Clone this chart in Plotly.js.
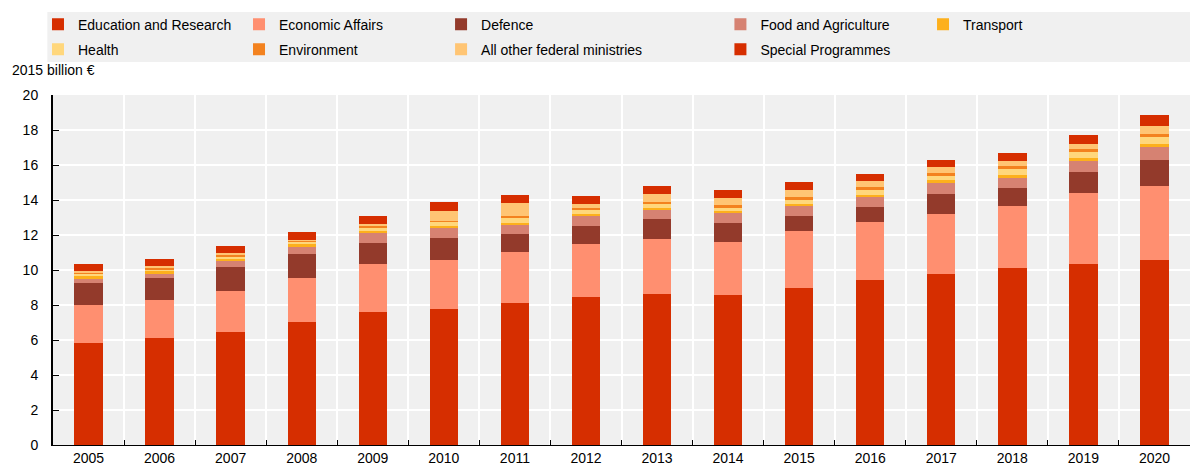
<!DOCTYPE html>
<html>
<head>
<meta charset="utf-8">
<script src="https://cdn.plot.ly/plotly-3.0.1.min.js"></script>
<style>
	html, body { margin: 0; padding: 0; background: #fff; }
	#chart { width: 1198px; height: 469px; }
</style>
</head>
<body>
<div id="chart"></div>
<script>

const years = ["2005", "2006", "2007", "2008", "2009", "2010", "2011", "2012", "2013", "2014", "2015", "2016", "2017", "2018", "2019", "2020"]

// 2015 billion €
const education = [5.83, 6.13, 6.48, 7.05, 7.60, 7.79, 8.11, 8.46, 8.63, 8.57, 8.99, 9.41, 9.77, 10.11, 10.33, 10.55]
const economic = [2.17, 2.16, 2.30, 2.49, 2.74, 2.78, 2.90, 3.04, 3.12, 3.03, 3.22, 3.31, 3.43, 3.56, 4.05, 4.27]
const defence = [1.24, 1.23, 1.41, 1.37, 1.22, 1.28, 1.05, 1.00, 1.15, 1.07, 0.89, 0.90, 1.16, 1.00, 1.22, 1.47]
const food = [0.26, 0.27, 0.32, 0.40, 0.54, 0.55, 0.53, 0.57, 0.53, 0.56, 0.57, 0.55, 0.61, 0.61, 0.65, 0.74]
const transport = [0.16, 0.13, 0.12, 0.16, 0.15, 0.11, 0.11, 0.13, 0.13, 0.13, 0.12, 0.12, 0.17, 0.15, 0.15, 0.19]
const health = [0.11, 0.10, 0.13, 0.11, 0.15, 0.21, 0.27, 0.23, 0.21, 0.19, 0.21, 0.28, 0.23, 0.34, 0.34, 0.36]
const environment = [0.08, 0.09, 0.10, 0.07, 0.11, 0.10, 0.10, 0.11, 0.12, 0.15, 0.17, 0.15, 0.19, 0.17, 0.19, 0.21]
const otherMinistries = [0.08, 0.12, 0.09, 0.06, 0.10, 0.55, 0.76, 0.23, 0.47, 0.44, 0.40, 0.35, 0.31, 0.27, 0.29, 0.44]
const special = [0.40, 0.40, 0.42, 0.44, 0.48, 0.50, 0.44, 0.44, 0.46, 0.46, 0.48, 0.42, 0.42, 0.46, 0.51, 0.61]

const seriesNames = ["Education and Research", "Economic Affairs", "Defence", "Food and Agriculture", "Transport",
	"Health", "Environment", "All other federal ministries", "Special Programmes"]
const seriesValues = [education, economic, defence, food, transport, health, environment, otherMinistries, special]
const seriesColors = ["#d62e00", "#ff8f70", "#933a2b", "#d68272", "#fdb01c", "#ffd77c", "#f3821f", "#ffc574", "#d62e00"]


const FONT = "Liberation Sans, Arial, sans-serif"

// legend is laid out as 5 columns x 2 rows, one plotly legend per column
const legendIds = ["legend", "legend2", "legend3", "legend4", "legend5"]
const legendColX = [-0.0132, 0.1636, 0.3413, 0.587, 0.7652]

const data = seriesNames.map((name, i) => ({
	type: "bar",
	name: name,
	x: years,
	y: seriesValues[i],
	legend: legendIds[i % 5],
	legendgroup: "g" + i,
	marker: { color: seriesColors[i], line: { width: 0 } },
	hoverinfo: "skip"
}))

const layout = {
	width: 1198,
	height: 469,
	margin: { l: 53, r: 8, t: 95, b: 24 },
	paper_bgcolor: "#ffffff",
	plot_bgcolor: "#f0f0f0",
	font: { family: FONT, size: 14, color: "#000" },
	barmode: "stack",
	bargap: 0.6,
	showlegend: true,
	xaxis: {
		type: "category",
		tickson: "boundaries",
		ticks: "inside",
		ticklen: 5,
		tickcolor: "#000",
		showline: true,
		linecolor: "#000",
		linewidth: 1,
		showgrid: true,
		gridcolor: "#ffffff",
		gridwidth: 2,
		tickfont: { family: FONT, size: 14, color: "#000" },
		fixedrange: true
	},
	yaxis: {
		range: [0, 20],
		dtick: 2,
		ticks: "inside",
		ticklen: 6,
		tickcolor: "#000",
		showline: true,
		linecolor: "#000",
		linewidth: 2,
		showgrid: true,
		gridcolor: "#ffffff",
		gridwidth: 2,
		zeroline: false,
		ticklabelstandoff: 10,
		tickfont: { family: FONT, size: 14, color: "#000" },
		fixedrange: true
	},
	shapes: [{
		type: "rect",
		xref: "paper",
		yref: "paper",
		x0: -0.005,
		x1: 1,
		y0: 1.094,
		y1: 1.237,
		fillcolor: "#f0f0f0",
		line: { width: 0 },
		layer: "below"
	}],
	annotations: [{
		text: "2015 billion €",
		xref: "paper",
		yref: "paper",
		x: -0.038,
		xanchor: "left",
		y: 1.072,
		yanchor: "middle",
		showarrow: false,
		font: { family: FONT, size: 14, color: "#000" }
	}]
}

legendIds.forEach((id, k) => {
	layout[id] = {
		orientation: "v",
		traceorder: "grouped",
		tracegroupgap: 4,
		x: legendColX[k],
		xanchor: "left",
		y: 1.247,
		yanchor: "top",
		bgcolor: "rgba(0,0,0,0)",
		font: { family: FONT, size: 14, color: "#000" },
		itemclick: false
	}
})

Plotly.newPlot("chart", data, layout, { displayModeBar: false, staticPlot: true })

</script>
</body>
</html>
